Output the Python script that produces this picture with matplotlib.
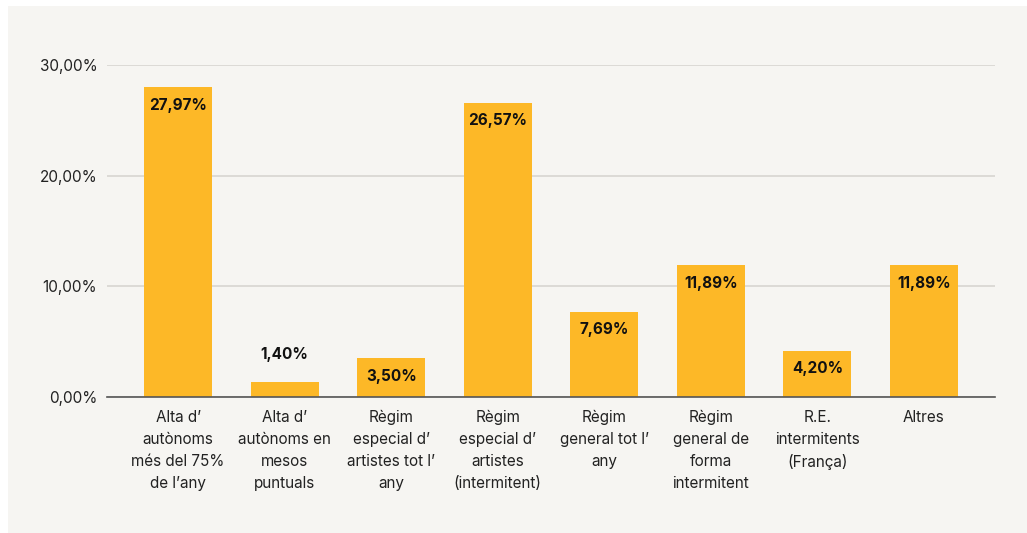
import matplotlib.pyplot as plt
from matplotlib.patches import Rectangle

categories = [
    "Alta d'\nautònoms\nmés del 75%\nde l'any",
    "Alta d'\nautònoms en\nmesos\npuntuals",
    "Règim\nespecial d'\nartistes tot l'\nany",
    "Règim\nespecial d'\nartistes\n(intermitent)",
    "Règim\ngeneral tot l'\nany",
    "Règim\ngeneral de\nforma\nintermitent",
    "R.E.\nintermitents\n(França)",
    "Altres",
]
categories = [c.replace("'", "\u2019") for c in categories]
values = [27.97, 1.40, 3.50, 26.57, 7.69, 11.89, 4.20, 11.89]
yticks = [0, 10, 20, 30]

plt.rcParams['font.family'] = ['Inter', 'DejaVu Sans']

W, H = 1027, 533
fig = plt.figure(figsize=(W / 100, H / 100), dpi=100, facecolor='white')
# light panel behind the chart
fig.patches.append(Rectangle((8 / W, -0.01), 1, (H - 6) / H + 0.01, transform=fig.transFigure,
                             facecolor='#F6F5F2', edgecolor='none', zorder=-10))

ax = fig.add_axes([107 / W, (H - 397) / H, (995 - 107) / W, (397 - 65) / H])
ax.set_facecolor('none')

x = range(len(values))
ax.bar(x, values, width=0.64, color='#FDB827', zorder=3)

for i, v in enumerate(values):
    txt = f"{v:.2f}%".replace('.', ',')
    if v < 3:
        ax.annotate(txt, (i, v), xytext=(0, 20), textcoords='offset pixels',
                    ha='center', va='bottom', fontsize=11, fontweight='bold',
                    color='#111111', zorder=4)
    else:
        ax.annotate(txt, (i, v), xytext=(0, -18), textcoords='offset pixels',
                    ha='center', va='center', fontsize=11, fontweight='bold',
                    color='#111111', zorder=4)

ax.set_xlim(-0.667, len(values) - 1 + 0.667)
ax.set_ylim(0, 30)
ax.set_yticks(yticks)
ax.set_yticklabels([f"{t:.2f}%".replace('.', ',') for t in yticks], fontsize=11, color='#222222')
ax.set_xticks(list(x))
ax.set_xticklabels(categories, fontsize=11, color='#222222', linespacing=1.6)
ax.tick_params(axis='both', length=0)
ax.tick_params(axis='x', pad=9)
ax.tick_params(axis='y', pad=7)

ax.grid(axis='y', color='#DAD8D3', linewidth=1.3, zorder=1)
for s in ['top', 'right', 'left']:
    ax.spines[s].set_visible(False)
ax.spines['bottom'].set_color('#555555')
ax.spines['bottom'].set_linewidth(1.2)
ax.spines['bottom'].set_zorder(5)

fig.savefig('out.png', dpi=100, facecolor='white')
